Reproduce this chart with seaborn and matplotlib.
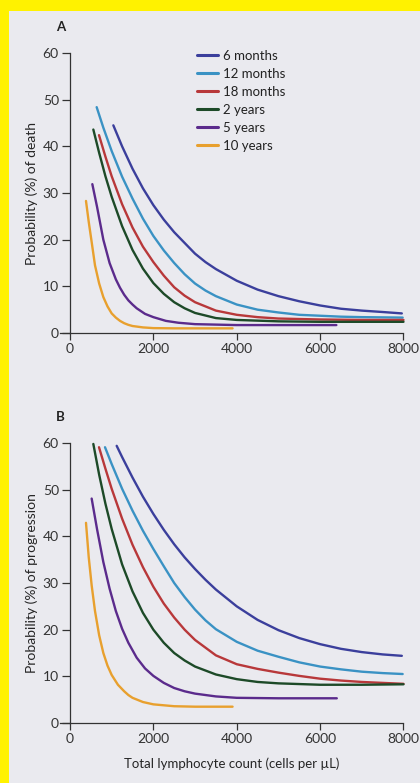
import matplotlib
matplotlib.use('Agg')
import matplotlib.pyplot as plt
import seaborn as sns
import pandas as pd
from matplotlib.patches import Rectangle

# Series labels and colours
PERIODS = ['6 months', '12 months', '18 months', '2 years', '5 years', '10 years']
COLORS = ['#3b3f9c', '#3a92c4', '#b8383a', '#1d4a28', '#5b2b8c', '#e8a02e']

# Panel A: probability (%) of death
death_6m_x = [1040, 1250, 1500, 1750, 2000, 2250, 2500, 2750, 3000, 3250, 3500, 4000, 4500, 5000, 5500, 6000, 6500, 7000, 7500, 7960]
death_6m_y = [44.5, 40.0, 35.2, 31.0, 27.4, 24.3, 21.6, 19.3, 17.0, 15.2, 13.7, 11.2, 9.3, 7.9, 6.8, 5.9, 5.2, 4.8, 4.5, 4.2]
death_12m_x = [640, 800, 1000, 1250, 1500, 1750, 2000, 2250, 2500, 2750, 3000, 3250, 3500, 4000, 4500, 5000, 5500, 6000, 6500, 7000, 7500, 7980]
death_12m_y = [48.4, 44.0, 39.0, 33.5, 28.8, 24.5, 20.8, 17.7, 15.0, 12.6, 10.6, 9.1, 7.9, 6.1, 5.0, 4.4, 3.9, 3.7, 3.5, 3.4, 3.35, 3.3]
death_18m_x = [696, 850, 1000, 1250, 1500, 1750, 2000, 2250, 2500, 2750, 3000, 3500, 4000, 4500, 5000, 6000, 7000, 8000]
death_18m_y = [42.4, 37.8, 33.6, 27.6, 22.6, 18.5, 15.2, 12.3, 9.8, 8.0, 6.6, 4.8, 3.9, 3.4, 3.1, 2.9, 2.8, 2.8]
death_2y_x = [560, 700, 850, 1000, 1250, 1500, 1750, 2000, 2250, 2500, 2750, 3000, 3500, 4000, 5000, 6000, 7000, 8000]
death_2y_y = [43.6, 38.6, 33.6, 29.2, 22.9, 17.8, 13.8, 10.7, 8.4, 6.6, 5.3, 4.3, 3.2, 2.8, 2.5, 2.4, 2.4, 2.4]
death_5y_x = [536, 650, 800, 950, 1100, 1200, 1300, 1400, 1500, 1600, 1800, 2000, 2300, 2600, 3000, 3500, 4000, 5000, 6390]
death_5y_y = [31.9, 27.0, 20.0, 15.0, 11.5, 9.7, 8.2, 7.0, 6.1, 5.3, 4.1, 3.4, 2.6, 2.2, 1.9, 1.8, 1.7, 1.7, 1.7]
death_10y_x = [384, 450, 520, 600, 700, 800, 900, 1000, 1100, 1200, 1300, 1400, 1500, 1750, 2000, 2500, 3000, 3900]
death_10y_y = [28.3, 23.8, 19.5, 14.5, 10.6, 7.7, 5.7, 4.2, 3.3, 2.6, 2.1, 1.75, 1.5, 1.2, 1.05, 1.0, 1.0, 1.0]

# Panel B: probability (%) of progression
prog_6m_x = [1120, 1250, 1500, 1750, 2000, 2250, 2500, 2750, 3000, 3250, 3500, 4000, 4500, 5000, 5500, 6000, 6500, 7000, 7500, 7960]
prog_6m_y = [59.4, 57.0, 52.6, 48.5, 44.8, 41.4, 38.3, 35.5, 33.0, 30.7, 28.6, 25.0, 22.1, 19.9, 18.2, 16.9, 15.9, 15.2, 14.7, 14.4]
prog_12m_x = [840, 1000, 1250, 1500, 1750, 2000, 2250, 2500, 2750, 3000, 3250, 3500, 4000, 4500, 5000, 5500, 6000, 6500, 7000, 7500, 7980]
prog_12m_y = [59.1, 55.5, 50.2, 45.5, 41.2, 37.3, 33.6, 30.0, 27.0, 24.3, 22.0, 20.1, 17.4, 15.5, 14.2, 13.0, 12.1, 11.5, 11.0, 10.7, 10.5]
prog_18m_x = [696, 850, 1000, 1250, 1500, 1750, 2000, 2250, 2500, 2750, 3000, 3500, 4000, 4500, 5000, 5500, 6000, 6500, 7000, 7500, 8000]
prog_18m_y = [59.1, 54.5, 50.2, 43.8, 38.2, 33.4, 29.2, 25.6, 22.6, 20.0, 17.8, 14.5, 12.6, 11.6, 10.8, 10.1, 9.5, 9.1, 8.8, 8.6, 8.4]
prog_2y_x = [560, 700, 850, 1000, 1250, 1500, 1750, 2000, 2250, 2500, 2750, 3000, 3500, 4000, 4500, 5000, 6000, 7000, 8000]
prog_2y_y = [59.8, 53.2, 47.0, 41.6, 34.0, 28.2, 23.6, 20.0, 17.2, 15.0, 13.4, 12.1, 10.4, 9.4, 8.8, 8.5, 8.2, 8.2, 8.3]
prog_5y_x = [520, 650, 800, 950, 1100, 1250, 1400, 1600, 1800, 2000, 2250, 2500, 2750, 3000, 3500, 4000, 5000, 6400]
prog_5y_y = [48.1, 41.5, 34.5, 28.8, 24.0, 20.2, 17.2, 14.0, 11.7, 10.1, 8.6, 7.5, 6.8, 6.3, 5.7, 5.4, 5.3, 5.3]
prog_10y_x = [384, 450, 520, 600, 700, 800, 900, 1000, 1150, 1300, 1400, 1500, 1750, 2000, 2500, 3000, 3900]
prog_10y_y = [42.9, 35.5, 29.5, 24.0, 18.8, 15.0, 12.3, 10.3, 8.2, 6.8, 6.0, 5.4, 4.5, 4.0, 3.6, 3.5, 3.5]

X_TICKS = [0, 2000, 4000, 6000, 8000]
Y_TICKS = [0, 10, 20, 30, 40, 50, 60]


def long_frame(xs, ys):
    rows = []
    for period, x, y in zip(PERIODS, xs, ys):
        for xi, yi in zip(x, y):
            rows.append({'count': xi, 'prob': yi, 'period': period})
    return pd.DataFrame(rows)


df_death = long_frame([death_6m_x, death_12m_x, death_18m_x, death_2y_x, death_5y_x, death_10y_x],
                      [death_6m_y, death_12m_y, death_18m_y, death_2y_y, death_5y_y, death_10y_y])
df_prog = long_frame([prog_6m_x, prog_12m_x, prog_18m_x, prog_2y_x, prog_5y_x, prog_10y_x],
                     [prog_6m_y, prog_12m_y, prog_18m_y, prog_2y_y, prog_5y_y, prog_10y_y])

sns.set_style('ticks')
plt.rcParams['font.family'] = ['Lato', 'DejaVu Sans']
plt.rcParams['axes.edgecolor'] = '#333333'
plt.rcParams['xtick.color'] = '#333333'
plt.rcParams['ytick.color'] = '#333333'
plt.rcParams['text.color'] = '#222222'
plt.rcParams['lines.solid_joinstyle'] = 'round'

fig = plt.figure(figsize=(4.2, 7.83), dpi=100)
fig.patch.set_facecolor('#fff200')
# inner page panel, kept behind the axes
page = Rectangle((9 / 420, 0), 1, 1 - 11 / 783, transform=fig.transFigure,
                 facecolor='#eaeaef', edgecolor='none', zorder=-10)
fig.add_artist(page)

palette = dict(zip(PERIODS, COLORS))

ax_a = fig.add_axes([0.1438, 0.5747, 0.8169, 0.3576])
ax_b = fig.add_axes([0.1438, 0.0766, 0.8169, 0.3576])

for ax, df, ylabel, letter in [(ax_a, df_death, 'Probability (%) of death', 'A'),
                               (ax_b, df_prog, 'Probability (%) of progression', 'B')]:
    ax.patch.set_visible(False)
    sns.lineplot(data=df, x='count', y='prob', hue='period', hue_order=PERIODS,
                 palette=palette, linewidth=1.7, ax=ax, legend=(ax is ax_a),
                 estimator=None, sort=False)
    for line in ax.lines:
        line.set_clip_on(False)
    ax.set_xlim(-230, 8000)
    ax.set_ylim(0, 60)
    ax.set_xticks(X_TICKS)
    ax.set_yticks(Y_TICKS)
    ax.spines['left'].set_position(('data', 0))
    ax.spines['right'].set_visible(False)
    ax.spines['top'].set_visible(False)
    ax.spines['left'].set_linewidth(0.9)
    ax.spines['bottom'].set_linewidth(0.9)
    ax.tick_params(axis='y', length=6, width=0.9, labelsize=10, pad=2)
    ax.tick_params(axis='x', length=5, width=0.9, labelsize=10, pad=2)
    ax.set_ylabel(ylabel, fontsize=10)
    ax.yaxis.set_label_coords(-0.065, 0.5)
    ax.set_xlabel('')
    ax.text(0.0, 1.07, letter, transform=ax.transAxes, fontsize=9.5,
            fontweight='bold', ha='center', va='bottom')

ax_b.set_xlabel('Total lymphocyte count (cells per \u00b5L)', fontsize=9.5, labelpad=9)

leg = ax_a.legend(loc='upper left', bbox_to_anchor=(0.379, 1.034), frameon=False,
                  fontsize=9.5, handlelength=1.6, handletextpad=0.35, labelspacing=0.45,
                  borderpad=0, title=None)
for h in leg.get_lines():
    h.set_linewidth(2.2)

fig.savefig('out.png', dpi=100, facecolor=fig.get_facecolor())
